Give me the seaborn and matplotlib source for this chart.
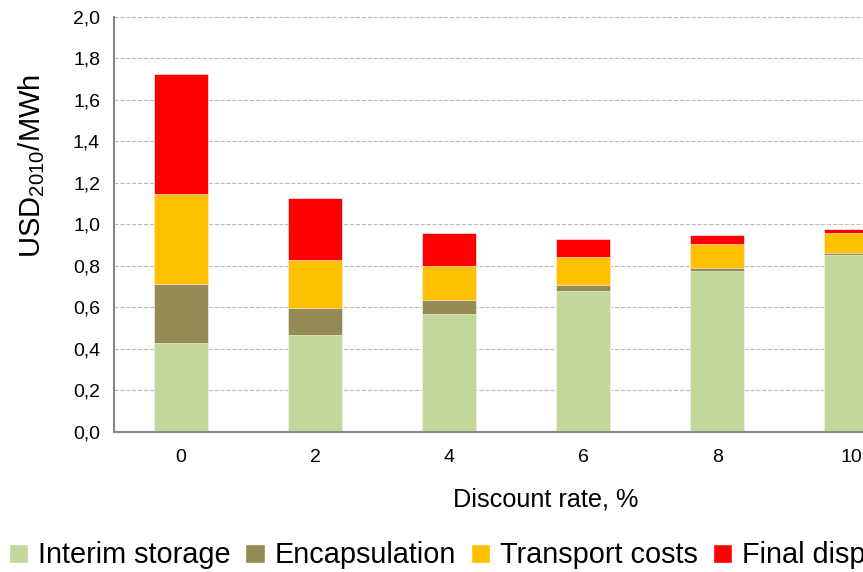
import pandas as pd
import matplotlib
matplotlib.use('Agg')
import matplotlib.pyplot as plt
import seaborn as sns
from matplotlib.patches import Patch

rates = ['0', '2', '4', '6', '8', '10']
interim = [0.427, 0.466, 0.569, 0.678, 0.773, 0.853]
encapsulation = [0.286, 0.133, 0.067, 0.032, 0.017, 0.008]
transport = [0.431, 0.230, 0.162, 0.133, 0.113, 0.095]
final = [0.581, 0.300, 0.159, 0.087, 0.045, 0.022]

series = ['Interim storage', 'Encapsulation', 'Transport costs', 'Final disposal']
colors = ['#C3D69B', '#948A54', '#FFC000', '#FF0000']

df = pd.DataFrame({'rate': rates, 'Interim storage': interim, 'Encapsulation': encapsulation,
                   'Transport costs': transport, 'Final disposal': final})
# cumulative tops, drawn from the top segment down so each hides the rest
cum = df[series].cumsum(axis=1)

sns.set_style('white')
plt.rcParams['font.family'] = ['Liberation Sans', 'DejaVu Sans']
plt.rcParams['mathtext.default'] = 'regular'
plt.rcParams['text.color'] = 'black'
plt.rcParams['axes.labelcolor'] = 'black'

fig = plt.figure(figsize=(8.63, 5.72), dpi=100)
ax = fig.add_axes([0.132, 0.245, 0.932, 0.7255])

for name, col in reversed(list(zip(series, colors))):
    sns.barplot(x=df['rate'], y=cum[name], color=col, width=0.4, saturation=1,
                edgecolor='white', linewidth=0.4, ax=ax)

ax.set_ylim(0, 2.0)
ax.set_xlim(-0.5, 5.5)
ax.set_yticks([i * 0.2 for i in range(11)])
ax.set_yticklabels([f'{i * 0.2:.1f}'.replace('.', ',') for i in range(11)], fontsize=14)
ax.set_xticks(range(6))
ax.set_xticklabels(rates, fontsize=14)
ax.set_xticks([i - 0.5 for i in range(7)], minor=True)
ax.tick_params(axis='x', which='major', length=0, pad=12, labelcolor='black')
ax.tick_params(axis='x', which='minor', length=6, color='#888888', width=1.2)
ax.tick_params(axis='y', length=6, color='#888888', width=1.2, pad=4, labelcolor='black')
ax.yaxis.grid(True, linestyle='--', color='#bbbbbb', linewidth=0.8)
ax.set_axisbelow(True)
for s in ['top', 'right']:
    ax.spines[s].set_visible(False)
for s in ['left', 'bottom']:
    ax.spines[s].set_color('#888888')
    ax.spines[s].set_linewidth(1.5)

ax.set_xlabel('Discount rate, %', fontsize=18.2)
ax.xaxis.set_label_coords(0.537, -0.135)
ax.set_ylabel(r'USD$_{2010}$/MWh', fontsize=21)
ax.yaxis.set_label_coords(-0.083, 0.641)

handles = [Patch(facecolor=c, label=n) for n, c in zip(series, colors)]
fig.legend(handles=handles, loc='center left', bbox_to_anchor=(0.010, 0.029), ncol=4,
           frameon=False, fontsize=20.8, handlelength=0.66, handleheight=0.66,
           handletextpad=0.35, columnspacing=0.52, borderpad=0, borderaxespad=0)

fig.savefig('out.png', dpi=100)
